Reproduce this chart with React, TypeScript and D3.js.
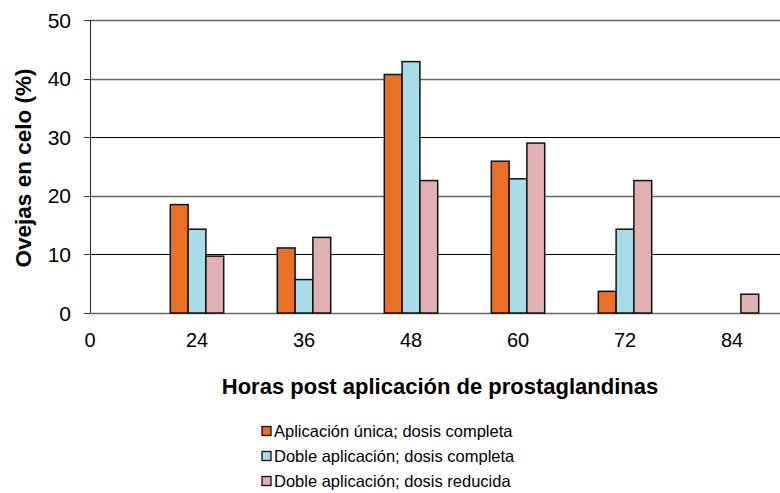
import * as d3 from "d3";
import React, { useRef, useEffect } from "react";

const hours = ["0", "24", "36", "48", "60", "72", "84"];
const unicaCompleta = [0, 18.5, 11.1, 40.7, 25.9, 3.7, 0];
const dobleCompleta = [0, 14.3, 5.7, 42.9, 22.9, 14.3, 0];
const dobleReducida = [0, 9.7, 12.9, 22.6, 29.0, 22.6, 3.2];
const seriesNames = [
  "Aplicación única; dosis completa",
  "Doble aplicación; dosis completa",
  "Doble aplicación; dosis reducida",
];
const colors = ["#E97127", "#A8DCE7", "#E2B0B2"];
const yTicks = [0, 10, 20, 30, 40, 50];

const W = 780;
const H = 493;

const App = () => {
  const ref = useRef(null);

  useEffect(() => {
    document.body.style.margin = "0";
    const svg = d3.select(ref.current);
    svg.selectAll("*").remove();

    const font = "Liberation Sans, Arial, sans-serif";
    const y = d3.scaleLinear().domain([0, 50]).range([313, 20]);
    const x = d3.scalePoint().domain(hours).range([90, 732]);
    const barW = 17.8;
    const series = [unicaCompleta, dobleCompleta, dobleReducida];

    // grid
    svg.append("g")
      .selectAll("line")
      .data(yTicks)
      .enter()
      .append("line")
      .attr("x1", 90)
      .attr("x2", 780)
      .attr("y1", (d) => Math.round(y(d)) + 0.5)
      .attr("y2", (d) => Math.round(y(d)) + 0.5)
      .attr("stroke", (d) => (d === 30 || d === 10 ? "#000" : "#666"))
      .attr("stroke-width", (d) => (d === 30 || d === 10 ? 1 : 1.6));

    // y tick marks + labels
    const yAxis = svg.append("g");
    yAxis.selectAll("line")
      .data(yTicks)
      .enter()
      .append("line")
      .attr("x1", 84)
      .attr("x2", 90)
      .attr("y1", (d) => Math.round(y(d)) + 0.5)
      .attr("y2", (d) => Math.round(y(d)) + 0.5)
      .attr("stroke", "#333");
    yAxis.selectAll("text")
      .data(yTicks)
      .enter()
      .append("text")
      .attr("x", 71)
      .attr("y", (d) => y(d) + 7.5)
      .attr("text-anchor", "end")
      .attr("font-family", font)
      .attr("font-size", 21)
      .text((d) => d);

    svg.append("line")
      .attr("x1", 90.5).attr("x2", 90.5)
      .attr("y1", 20).attr("y2", 313)
      .attr("stroke", "#222");

    // bars
    series.forEach((vals, si) => {
      svg.append("g")
        .selectAll("rect")
        .data(vals.map((v, i) => ({ v, h: hours[i] })).filter((d) => d.v > 0))
        .enter()
        .append("rect")
        .attr("x", (d) => x(d.h) - 1.5 * barW + si * barW)
        .attr("y", (d) => y(d.v))
        .attr("width", barW)
        .attr("height", (d) => y(0) - y(d.v))
        .attr("fill", colors[si])
        .attr("stroke", "#111")
        .attr("stroke-width", 1.5);
    });

    // x labels
    svg.append("g")
      .selectAll("text")
      .data(hours)
      .enter()
      .append("text")
      .attr("x", (d) => x(d))
      .attr("y", 347)
      .attr("text-anchor", "middle")
      .attr("font-family", font)
      .attr("font-size", 20)
      .text((d) => d);

    // titles
    svg.append("text")
      .attr("x", 440)
      .attr("y", 394)
      .attr("text-anchor", "middle")
      .attr("font-family", font)
      .attr("font-weight", "bold")
      .attr("font-size", 22)
      .text("Horas post aplicación de prostaglandinas");

    svg.append("text")
      .attr("transform", "translate(31,168) rotate(-90)")
      .attr("text-anchor", "middle")
      .attr("font-family", font)
      .attr("font-weight", "bold")
      .attr("font-size", 22.5)
      .text("Ovejas en celo (%)");

    // legend
    const leg = svg.append("g")
      .selectAll("g")
      .data(seriesNames)
      .enter()
      .append("g")
      .attr("transform", (d, i) => "translate(262," + (431 + i * 25) + ")");
    leg.append("rect")
      .attr("x", 0)
      .attr("y", -4.5)
      .attr("width", 9)
      .attr("height", 9)
      .attr("fill", (d, i) => colors[i])
      .attr("stroke", "#111")
      .attr("stroke-width", 1.3);
    leg.append("text")
      .attr("x", 12)
      .attr("y", 6)
      .attr("font-family", font)
      .attr("font-size", 16.5)
      .text((d) => d);
  }, []);

  return <svg ref={ref} width={W} height={H} style={{ display: "block", background: "#fff" }} />;
};

export default App;
